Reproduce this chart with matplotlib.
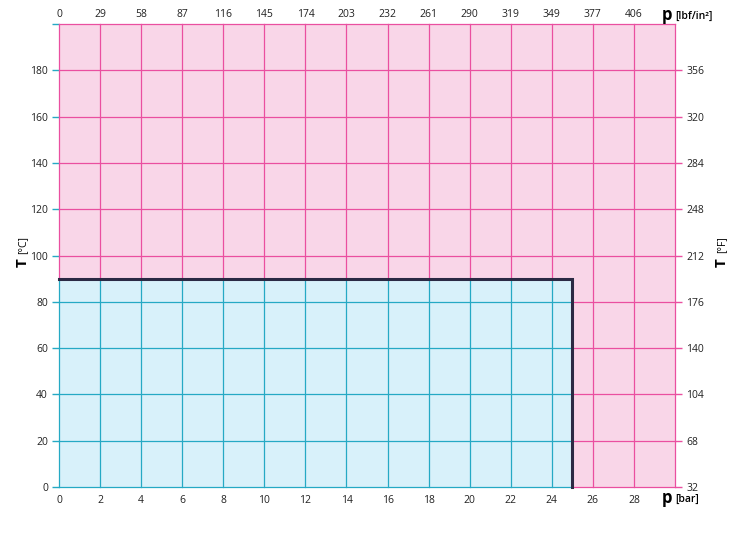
import numpy as np
import matplotlib.pyplot as plt

# ---------- Data ----------
p_bar = [0, 2, 4, 6, 8, 10, 12, 14, 16, 18, 20, 22, 24, 26, 28]
p_psi = [0, 29, 58, 87, 116, 145, 174, 203, 232, 261, 290, 319, 349, 377, 406]
t_c = [0, 20, 40, 60, 80, 100, 120, 140, 160, 180]
t_f = [32, 68, 104, 140, 176, 212, 248, 284, 320, 356]
p_max = 25      # bar
t_max = 90      # °C
x_lim = 30
y_lim = 200

# ---------- Colours ----------
pink_bg = '#f9d6e8'
pink_ln = '#ea4fa0'
blue_bg = '#d8f1fa'
blue_ln = '#25a9c4'
dark = '#2b2a44'

plt.rcParams['font.family'] = ['Open Sans', 'DejaVu Sans']

fig = plt.figure(figsize=(7.30, 5.34), dpi=100)
ax = fig.add_axes([59/730, 47/534, 616/730, 463/534])
ax.set_xlim(0, x_lim)
ax.set_ylim(0, y_lim)
ax.set_facecolor(pink_bg)
ax.fill_between([0, p_max], 0, t_max, color=blue_bg, lw=0, zorder=1)

# ---------- Grid ----------
xs = list(range(0, x_lim + 1, 2))
ys = t_c + [y_lim]
kw = dict(lw=0.9, zorder=2, clip_on=False)
for x in xs:
    if x < p_max:
        ax.plot([x, x], [0, t_max], color=blue_ln, **kw)
        ax.plot([x, x], [t_max, y_lim], color=pink_ln, **kw)
    else:
        ax.plot([x, x], [0, y_lim], color=pink_ln, **kw)
for y in ys:
    if y < t_max:
        ax.plot([0, p_max], [y, y], color=blue_ln, **kw)
        ax.plot([p_max, x_lim], [y, y], color=pink_ln, **kw)
    else:
        ax.plot([0, x_lim], [y, y], color=pink_ln, **kw)

# ---------- Limit line ----------
ax.plot([0, p_max, p_max], [t_max, t_max, 0], color=dark, lw=2.2, zorder=4,
        solid_joinstyle='miter', clip_on=False)

for s in ax.spines.values():
    s.set_visible(False)

# ---------- Axes ----------
ax.set_xticks(p_bar)
ax.set_xticklabels([str(v) for v in p_bar])
ax.set_yticks(t_c + [y_lim])
ax.set_yticklabels([str(v) for v in t_c] + [''])
ax.tick_params(axis='x', length=0, pad=6, labelsize=7.5, colors='#222222')
ax.tick_params(axis='y', length=5, width=1, pad=3, labelsize=7.5,
               colors=blue_ln, labelcolor='#222222')

axt = ax.twiny()
axt.set_xlim(ax.get_xlim())
axt.set_xticks(p_bar)
axt.set_xticklabels([str(v) for v in p_psi])
axt.tick_params(axis='x', length=0, pad=3, labelsize=7.5, colors='#222222')

axr = ax.twinx()
axr.set_ylim(ax.get_ylim())
axr.set_yticks(t_c)
axr.set_yticklabels([str(v) for v in t_f])
axr.tick_params(axis='y', length=5, width=1, pad=3, labelsize=7.5,
                colors=pink_ln, labelcolor='#222222')
for a in (axt, axr):
    for s in a.spines.values():
        s.set_visible(False)

# ---------- Axis titles ----------
fig.text(23/730, 1 - 263/534, 'T', rotation=90, fontsize=11, fontweight='bold',
         ha='center', va='center')
fig.text(23/730, 1 - 245/534, '[°C]', rotation=90, fontsize=7.5,
         ha='center', va='center')
fig.text(722/730, 1 - 263/534, 'T', rotation=90, fontsize=11, fontweight='bold',
         ha='center', va='center')
fig.text(722/730, 1 - 245/534, '[°F]', rotation=90, fontsize=7.5,
         ha='center', va='center')
fig.text(667/730, 1 - 498/534, 'p', fontsize=12, fontweight='bold', ha='center', va='center')
fig.text(675/730, 1 - 499/534, '[bar]', fontsize=7.5, fontweight='semibold', ha='left', va='center')
fig.text(667/730, 1 - 15/534, 'p', fontsize=12, fontweight='bold', ha='center', va='center')
fig.text(675/730, 1 - 16/534, '[lbf/in²]', fontsize=7.5, fontweight='semibold', ha='left', va='center')

fig.savefig('out.png', dpi=100)
